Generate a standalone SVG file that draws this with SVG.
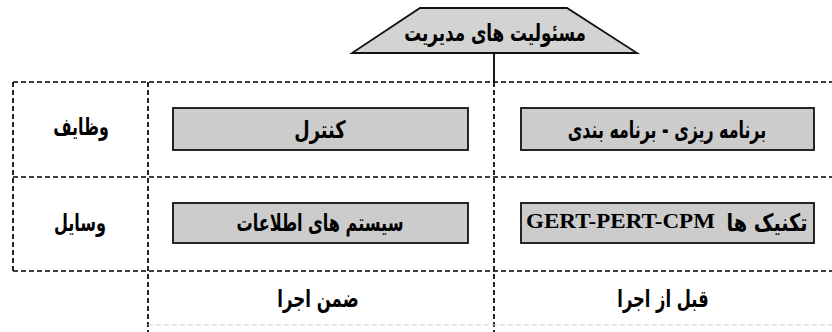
<svg xmlns="http://www.w3.org/2000/svg" width="832" height="332" viewBox="0 0 832 332">
  <style>
    .grid { stroke: #000; stroke-width: 1.7; stroke-dasharray: 5 3; fill: none; }
    .faint { stroke: #d0d0d0; stroke-width: 1; stroke-dasharray: 5 3; fill: none; }
    .box { fill: #cccccc; stroke: #111; stroke-width: 1.8; }
    .fa { font-family: "DejaVu Sans", sans-serif; font-weight: bold; font-size: 24px; fill: #000; text-anchor: middle; direction: rtl; }
    .lat { font-family: "Liberation Serif", serif; font-weight: bold; font-size: 22px; fill: #000; text-anchor: start; }
    .link { stroke: #000; stroke-width: 1.8; fill: none; }
  </style>

  <!-- dashed table frame -->
  <g id="grid">
    <line class="grid" x1="13" y1="82" x2="832" y2="82"/>
    <line class="grid" x1="13" y1="177" x2="832" y2="177"/>
    <line class="grid" x1="13" y1="271" x2="832" y2="271"/>
    <line class="grid" x1="13" y1="82" x2="13" y2="271"/>
    <line class="grid" x1="148" y1="82" x2="148" y2="332"/>
    <line class="grid" x1="494" y1="82" x2="494" y2="332"/>
    <line class="faint" x1="148" y1="325" x2="832" y2="325"/>
  </g>

  <!-- connectors -->
  <g id="connectors">
    <line class="link" x1="494" y1="53" x2="494" y2="82"/>
  </g>

  <!-- header -->
  <g id="responsibilities">
    <polygon points="420,8 567,8 637,53 352,53" fill="#d3d3d3" stroke="#111" stroke-width="1.8"/>
    <text class="fa" transform="translate(495,41) scale(0.70,1)">مسئولیت های مدیریت</text>
  </g>

  <!-- row labels -->
  <g id="row-functions">
    <text class="fa" transform="translate(81,135) scale(0.66,1)">وظایف</text>
  </g>
  <g id="row-tools">
    <text class="fa" transform="translate(80,231) scale(0.67,1)">وسایل</text>
  </g>

  <!-- column labels -->
  <g id="col-during">
    <text class="fa" transform="translate(318,307) scale(0.69,1)">ضمن اجرا</text>
  </g>
  <g id="col-before">
    <text class="fa" transform="translate(663,307) scale(0.68,1)">قبل از اجرا</text>
  </g>

  <!-- cells -->
  <g id="control">
    <rect class="box" x="173" y="108" width="295" height="42"/>
    <text class="fa" transform="translate(320,138) scale(0.74,1)">کنترل</text>
  </g>
  <g id="planning">
    <rect class="box" x="521" y="108" width="293" height="42"/>
    <text class="fa" transform="translate(667,138) scale(0.66,1)">برنامه ریزی - برنامه بندی</text>
  </g>
  <g id="information-systems">
    <rect class="box" x="173" y="203" width="295" height="40"/>
    <text class="fa" transform="translate(320,231) scale(0.67,1)">سیستم های اطلاعات</text>
  </g>
  <g id="techniques">
    <rect class="box" x="521" y="203" width="293" height="40"/>
    <text class="lat" x="526" y="228" textLength="189" lengthAdjust="spacingAndGlyphs">GERT-PERT-CPM</text>
    <text class="fa" transform="translate(767,231) scale(0.8,1)">تکنیک ها</text>
  </g>
</svg>
